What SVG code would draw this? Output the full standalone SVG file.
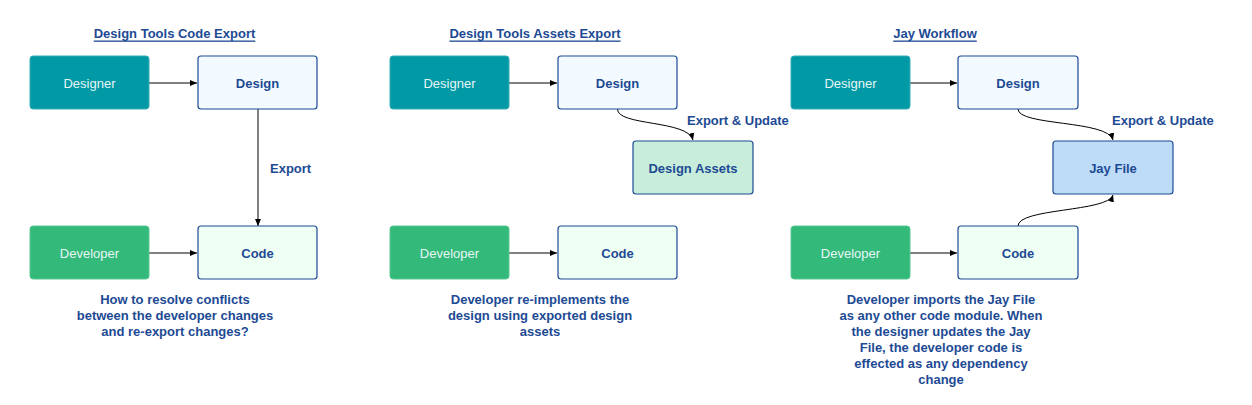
<svg xmlns="http://www.w3.org/2000/svg" width="1252" height="405" viewBox="0 0 1252 405">
<defs>
<style>
text{font-family:"Liberation Sans",Arial,sans-serif;font-size:13px;text-anchor:middle;dominant-baseline:central}
.lbl{fill:#1d4a94;font-weight:bold}
.title{fill:#1d4a94;font-weight:bold;text-decoration:underline}
.wt{fill:#e8f6f7}
.designer{fill:#0099a5;stroke:#33adb6;stroke-width:1}
.developer{fill:#33b97a;stroke:#5cc894;stroke-width:1}
.box{stroke:#1d4a94;stroke-width:1.2}
.design{fill:#f2faff}
.code{fill:#f0fff3}
.assets{fill:#c8eedb}
.jay{fill:#bedcf8}
.edge{fill:none;stroke:#000;stroke-width:1}
.el{fill:#1d4a94;font-weight:bold;text-anchor:start}
</style>
<marker id="arr" markerWidth="8" markerHeight="8" refX="7" refY="4" orient="auto" markerUnits="userSpaceOnUse">
<path d="M0,1 L7,4 L0,7 Z" fill="#000"/>
</marker>
</defs>
<rect width="1252" height="405" fill="#fff"/>
<text class="title" x="174.5" y="33">Design Tools Code Export</text>
<text class="title" x="535" y="33">Design Tools Assets Export</text>
<text class="title" x="935" y="33">Jay Workflow</text>
<g id="connectors">
<path class="edge" d="M149,83 H197" marker-end="url(#arr)"/>
<path class="edge" d="M258,109 V226" marker-end="url(#arr)"/>
<path class="edge" d="M149,253 H197" marker-end="url(#arr)"/>
<path class="edge" d="M509,83 H557" marker-end="url(#arr)"/>
<path class="edge" d="M617.5,109 C617,126 688,120 693,140" marker-end="url(#arr)"/>
<path class="edge" d="M509,253 H557" marker-end="url(#arr)"/>
<path class="edge" d="M910,83 H957" marker-end="url(#arr)"/>
<path class="edge" d="M1018,109 C1018,126 1108,120 1113,140" marker-end="url(#arr)"/>
<path class="edge" d="M910,253 H957" marker-end="url(#arr)"/>
<path class="edge" d="M1018,226 C1018,208 1108,212 1113,195" marker-end="url(#arr)"/>
<text class="el" x="270" y="168">Export</text>
<text class="el" x="687" y="120">Export &amp; Update</text>
<text class="el" x="1112" y="120">Export &amp; Update</text>
</g>
<g id="designer1"><rect class="designer" x="30" y="56" width="119" height="53" rx="3"/><text class="wt" x="89.5" y="83">Designer</text></g>
<g id="design1"><rect class="box design" x="198" y="56" width="119" height="53" rx="3"/><text class="lbl" x="257.5" y="83">Design</text></g>
<g id="developer1"><rect class="developer" x="30" y="226" width="119" height="53" rx="3"/><text class="wt" x="89.5" y="253">Developer</text></g>
<g id="code1"><rect class="box code" x="198" y="226" width="119" height="53" rx="3"/><text class="lbl" x="257.5" y="253">Code</text></g>
<g id="note1"><text class="lbl" x="175" y="299">How to resolve conflicts</text><text class="lbl" x="175" y="315">between the developer changes</text><text class="lbl" x="175" y="331">and re-export changes?</text></g>
<g id="designer2"><rect class="designer" x="390" y="56" width="119" height="53" rx="3"/><text class="wt" x="449.5" y="83">Designer</text></g>
<g id="design2"><rect class="box design" x="558" y="56" width="119" height="53" rx="3"/><text class="lbl" x="617.5" y="83">Design</text></g>
<g id="assets2"><rect class="box assets" x="633" y="141" width="120" height="53" rx="3"/><text class="lbl" x="693" y="168">Design Assets</text></g>
<g id="developer2"><rect class="developer" x="390" y="226" width="119" height="53" rx="3"/><text class="wt" x="449.5" y="253">Developer</text></g>
<g id="code2"><rect class="box code" x="558" y="226" width="119" height="53" rx="3"/><text class="lbl" x="617.5" y="253">Code</text></g>
<g id="note2"><text class="lbl" x="540" y="299">Developer re-implements the</text><text class="lbl" x="540" y="315">design using exported design</text><text class="lbl" x="540" y="331">assets</text></g>
<g id="designer3"><rect class="designer" x="791" y="56" width="119" height="53" rx="3"/><text class="wt" x="850.5" y="83">Designer</text></g>
<g id="design3"><rect class="box design" x="958" y="56" width="120" height="53" rx="3"/><text class="lbl" x="1018" y="83">Design</text></g>
<g id="jay3"><rect class="box jay" x="1053" y="141" width="120" height="53" rx="3"/><text class="lbl" x="1113" y="168">Jay File</text></g>
<g id="developer3"><rect class="developer" x="791" y="226" width="119" height="53" rx="3"/><text class="wt" x="850.5" y="253">Developer</text></g>
<g id="code3"><rect class="box code" x="958" y="226" width="120" height="53" rx="3"/><text class="lbl" x="1018" y="253">Code</text></g>
<g id="note3"><text class="lbl" x="941" y="299">Developer imports the Jay File</text><text class="lbl" x="941" y="315">as any other code module. When</text><text class="lbl" x="941" y="331">the designer updates the Jay</text><text class="lbl" x="941" y="347">File, the developer code is</text><text class="lbl" x="941" y="363">effected as any dependency</text><text class="lbl" x="941" y="379">change</text></g>
</svg>
